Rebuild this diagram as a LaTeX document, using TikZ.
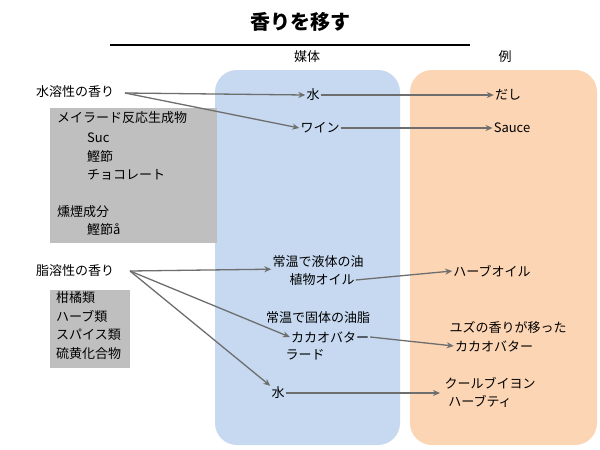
\documentclass[tikz,border=0pt]{standalone}
\usepackage{fontspec}
\setmainfont{Noto Sans CJK JP}
\usetikzlibrary{positioning,arrows.meta}
\definecolor{medblue}{RGB}{198,217,241}
\definecolor{exorange}{RGB}{252,213,180}
\definecolor{boxgray}{RGB}{191,191,191}
\definecolor{arrgray}{RGB}{110,110,110}
\begin{document}
\begin{tikzpicture}[x=1pt,y=-1pt,
   txt/.style={inner sep=1pt,font=\fontsize{13}{15}\selectfont},
   arr/.style={-{Stealth[length=7pt,width=6pt]},arrgray,line width=1.3pt},
   panel/.style={rounded corners=22pt,draw=none}]
 \useasboundingbox[fill=white] (0,0) rectangle (600,450);
 % panels
 \fill[panel,medblue] (215,70) rectangle (400,445);
 \fill[panel,exorange] (410,70) rectangle (597,445);
 \fill[boxgray] (50,108) rectangle (217,243);
 \fill[boxgray] (50,290) rectangle (130,368);
 % title
 \node[txt,font=\fontsize{20}{24}\selectfont\bfseries] (title) at (300,22) {香りを移す};
 \draw[line width=1.5pt] (110,45) -- (470,45);
 \node[txt] (medium) at (307,57) {媒体};
 \node[txt] (example) at (505,57) {例};
 % water-soluble
 \node[txt] (ws) at (75,92) {水溶性の香り};
 \coordinate (wsout) at (125,93);
 \node[txt] (water1) at (313,95) {水};
 \node[txt] (wine) at (320,128) {ワイン};
 \node[txt] (dashi) at (508,95) {だし};
 \node[txt] (sauce) at (512,128) {Sauce};
 \node[txt,anchor=west] (g1) at (56,118) {メイラード反応生成物};
 \node[txt,anchor=west] (g2) at (86,138) {Suc};
 \node[txt,anchor=west] (g3) at (86,157) {鰹節};
 \node[txt,anchor=west] (g4) at (86,175) {チョコレート};
 \node[txt,anchor=west] (g5) at (56,212) {燻煙成分};
 \node[txt,anchor=west] (g6) at (86,230) {鰹節å};
 % fat-soluble
 \node[txt] (fs) at (75,271) {脂溶性の香り};
 \coordinate (fsout) at (130,271);
 \node[txt] (liq1) at (318,262) {常温で液体の油};
 \node[txt] (liq2) at (322,280) {植物オイル};
 \node[txt] (herboil) at (492,271) {ハーブオイル};
 \node[txt] (sol1) at (318,318) {常温で固体の油脂};
 \node[txt] (sol2) at (330,337) {カカオバター};
 \node[txt] (sol3) at (305,355) {ラード};
 \node[txt] (yuzu1) at (508,327) {ユズの香りが移った};
 \node[txt] (yuzu2) at (494,346) {カカオバター};
 \node[txt] (water2) at (278,393) {水};
 \node[txt] (court) at (490,383) {クールブイヨン};
 \node[txt] (tea) at (480,401) {ハーブティ};
 \foreach \y/\t in {298/柑橘類,316/ハーブ類,335/スパイス類,354/硫黄化合物}
  \node[txt,anchor=west] at (55,\y) {\t};
 % arrows
 \draw[arr] (wsout) -- (water1.west);
 \draw[arr] (wsout) -- (wine.west);
 \draw[arr] (water1.east) -- (dashi.west);
 \draw[arr] (wine.east) -- (sauce.west);
 \draw[arr] (fsout) -- (liq1.south west);
 \draw[arr] (fsout) -- (sol2.west);
 \draw[arr] (fsout) -- (water2.north west);
 \draw[arr] (liq2.east) -- (herboil.west);
 \draw[arr] (sol2.east) -- (yuzu2.west);
 \draw[arr] (water2.east) -- (440,393);
\end{tikzpicture}
\end{document}
